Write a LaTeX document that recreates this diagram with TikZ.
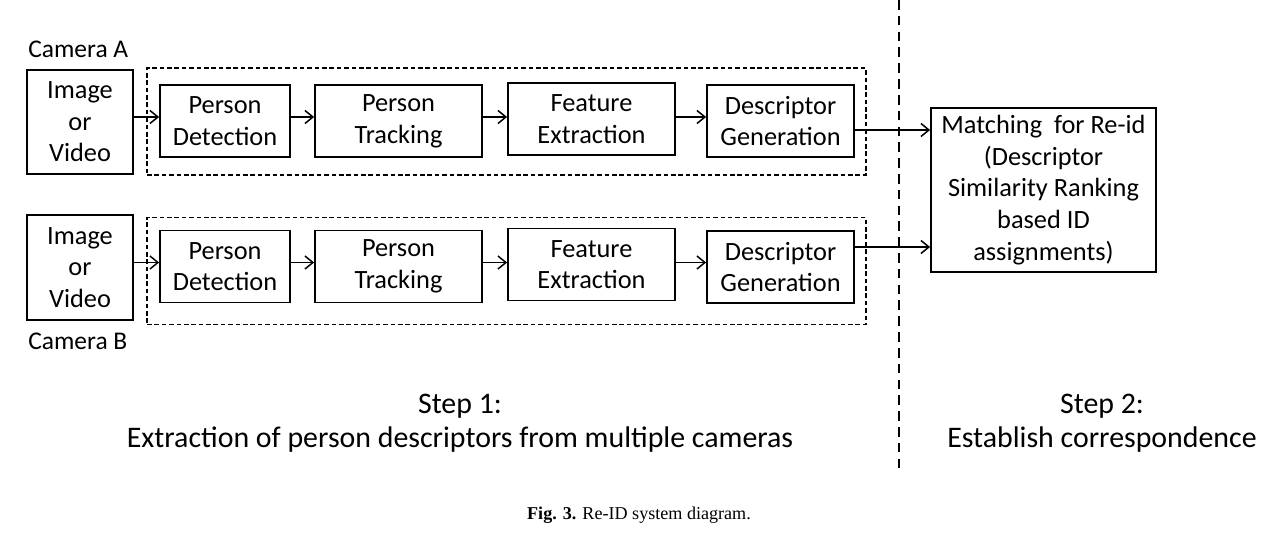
\documentclass[tikz,border=0pt]{standalone}
\usepackage{fontspec}
\setmainfont{Carlito}
\newfontfamily\capfont{Liberation Serif}
\usetikzlibrary{arrows.meta,positioning,calc}

\begin{document}
\begin{tikzpicture}[
  x=0.02cm, y=-0.02cm,
  box/.style={draw,line width=1pt,align=center,inner sep=0pt,font=\fontsize{15}{18}\selectfont},
  stage/.style={box,minimum height=1.44cm},
  group/.style={draw,dash pattern=on 2.6pt off 1.6pt,line width=0.75pt,minimum width=14.38cm,minimum height=2.14cm},
  lbl/.style={font=\fontsize{14.5}{17.6}\selectfont,inner sep=0pt},
  steplabel/.style={align=center,font=\fontsize{17}{19.5}\selectfont},
  arr/.style={->,>={Straight Barb[length=1.6mm,width=2.6mm]},line width=0.85pt}
]
  \useasboundingbox (0,0) rectangle (1269,541);

  % Divider between the two steps
  \coordinate (divtop) at (899,0);
  \coordinate (divbot) at (899,470);
  \draw[dash pattern=on 5.5pt off 3.5pt,line width=1.1pt] (divtop) -- (divbot);

  % Camera A row
  \node[lbl,anchor=west] (camA) at (28,49) {Camera A};
  \node[box,minimum width=2.12cm,minimum height=2.08cm] (imgA) at (80,122) {Image\\or\\Video};
  \node[group] (grpA) at (506.5,121.5) {};
  \node[stage,minimum width=2.6cm]  (detA)  at (225,121)   {Person\\Detection};
  \node[stage,minimum width=3.34cm] (trkA)  at (398.5,121) {Person\\Tracking};
  \node[stage,minimum width=3.34cm] (featA) at (591.5,119) {Feature\\Extraction};
  \node[stage,minimum width=2.94cm] (descA) at (780.5,121) {Descriptor\\Generation};

  % Camera B row
  \node[box,minimum width=2.12cm,minimum height=2.1cm] (imgB) at (80,267.5) {Image\\or\\Video};
  \node[lbl,anchor=west] (camB) at (28,341) {Camera B};
  \node[group] (grpB) at (506.5,271) {};
  \node[stage,minimum width=2.6cm]  (detB)  at (225,266.5)   {Person\\Detection};
  \node[stage,minimum width=3.34cm] (trkB)  at (398.5,266.5) {Person\\Tracking};
  \node[stage,minimum width=3.34cm] (featB) at (591.5,264.5) {Feature\\Extraction};
  \node[stage,minimum width=2.94cm] (descB) at (780.5,267)   {Descriptor\\Generation};

  % Matching stage
  \node[box,minimum width=4.5cm,minimum height=3.28cm] (match) at (1043.5,190)
    {Matching\ \ for Re-id\\(Descriptor\\Similarity Ranking\\based ID\\assignments)};

  % Arrow heights
  \coordinate (rowA) at (0,117);
  \coordinate (rowB) at (0,262.5);
  \coordinate (outA) at (0,130);
  \coordinate (outB) at (0,247);

  % Pipeline arrows
  \foreach \r/\y in {A/rowA,B/rowB}{
    \draw[arr] (img\r.east |- \y)  -- (det\r.west |- \y);
    \draw[arr] (det\r.east |- \y)  -- (trk\r.west |- \y);
    \draw[arr] (trk\r.east |- \y)  -- (feat\r.west |- \y);
    \draw[arr] (feat\r.east |- \y) -- (desc\r.west |- \y);
  }
  \draw[arr] (descA.east |- outA) -- (match.west |- outA);
  \draw[arr] (descB.east |- outB) -- (match.west |- outB);

  % Step captions
  \node[steplabel] (step1) at (460,423) {Step 1:\\Extraction of person descriptors from multiple cameras};
  \node[steplabel] (step2) at (1102,423) {Step 2:\\Establish correspondence};

  % Figure caption
  \node[font=\capfont\fontsize{10.3}{12}\selectfont] (fig) at (639,515) {\textbf{Fig. 3.} Re-ID system diagram.};
\end{tikzpicture}
\end{document}
